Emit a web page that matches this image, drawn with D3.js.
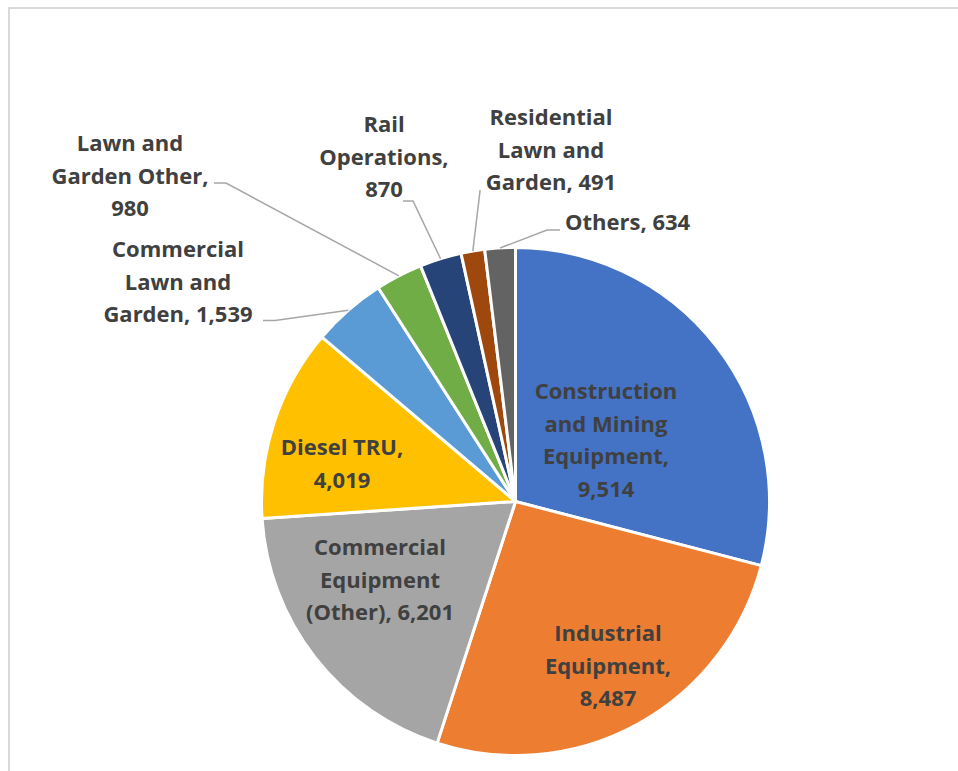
<!DOCTYPE html>
<html>
<head>
<meta charset="utf-8">
<script src="https://cdn.jsdelivr.net/npm/d3@7"></script>
<style>
  html, body { margin: 0; padding: 0; background: #fff; }
  svg { display: block; }
  text { font-family: "Open Sans", Lato, sans-serif; font-weight: 700; fill: #404040; font-variant-ligatures: none; }
</style>
</head>
<body>
<svg id="chart" width="958" height="771"></svg>
<script>
// ---- data ----
const categories = [
  "Construction and Mining Equipment",
  "Industrial Equipment",
  "Commercial Equipment (Other)",
  "Diesel TRU",
  "Commercial Lawn and Garden",
  "Lawn and Garden Other",
  "Rail Operations",
  "Residential Lawn and Garden",
  "Others"
];
const values = [9514, 8487, 6201, 4019, 1539, 980, 870, 491, 634];
const labelLines = [
  ["Construction", "and Mining", "Equipment,", "9,514"],
  ["Industrial", "Equipment,", "8,487"],
  ["Commercial", "Equipment", "(Other), 6,201"],
  ["Diesel TRU,", "4,019"],
  ["Commercial", "Lawn and", "Garden, 1,539"],
  ["Lawn and", "Garden Other,", "980"],
  ["Rail", "Operations,", "870"],
  ["Residential", "Lawn and", "Garden, 491"],
  ["Others, 634"]
];
const colors = ["#4472C4", "#ED7D31", "#A5A5A5", "#FFC000", "#5B9BD5", "#70AD47", "#264478", "#9E480E", "#636363"];

// ---- layout (label placement) ----
const cx = 515.5, cy = 501.5, R = 254;
const lineH = 32.5;
const labelLayout = [
  { x: 606, y: 399, anchor: "middle" },
  { x: 608, y: 641, anchor: "middle" },
  { x: 380, y: 555, anchor: "middle" },
  { x: 342, y: 455, anchor: "middle" },
  { x: 178, y: 257, anchor: "middle", elbow: [275, 320.5], end: [263, 320.5] },
  { x: 130, y: 151, anchor: "middle", elbow: [226, 183], end: [214, 183] },
  { x: 384, y: 132, anchor: "middle", elbow: [413, 201], end: [403, 201] },
  { x: 551, y: 125, anchor: "middle", elbow: [480, 191], end: [480, 190] },
  { x: 565, y: 230, anchor: "start", elbow: [547, 230], end: [560, 230] }
];

const svg = d3.select("#chart");

svg.append("rect")
  .attr("x", 9).attr("y", 8)
  .attr("width", 1000).attr("height", 1000)
  .attr("fill", "none")
  .attr("stroke", "#d9d9d9")
  .attr("stroke-width", 2);

const data = categories.map((c, i) => ({ name: c, value: values[i], lines: labelLines[i], color: colors[i], layout: labelLayout[i] }));

const pie = d3.pie().sort(null).value(d => d.value);
const arcs = pie(data);
const arc = d3.arc().innerRadius(0).outerRadius(R);
const edgeArc = d3.arc().innerRadius(R).outerRadius(R);

const g = svg.append("g").attr("transform", `translate(${cx},${cy})`);

g.selectAll("path.slice")
  .data(arcs)
  .join("path")
  .attr("class", "slice")
  .attr("d", arc)
  .attr("fill", d => d.data.color)
  .attr("stroke", "#fff")
  .attr("stroke-width", 3)
  .attr("stroke-linejoin", "round");

const lineGen = d3.line();
arcs.filter(d => d.data.layout.elbow).forEach(d => {
  const p = edgeArc.centroid(d);
  const start = [cx + p[0], cy + p[1]];
  svg.append("path")
    .attr("d", lineGen([start, d.data.layout.elbow, d.data.layout.end]))
    .attr("fill", "none")
    .attr("stroke", "#a6a6a6")
    .attr("stroke-width", 1.5);
});

arcs.forEach(d => {
  const L = d.data.layout;
  const t = svg.append("text")
    .attr("text-anchor", L.anchor)
    .style("font-size", "22px");
  d.data.lines.forEach((ln, j) => {
    t.append("tspan").attr("x", L.x).attr("y", L.y + j * lineH).text(ln);
  });
});
</script>
</body>
</html>
